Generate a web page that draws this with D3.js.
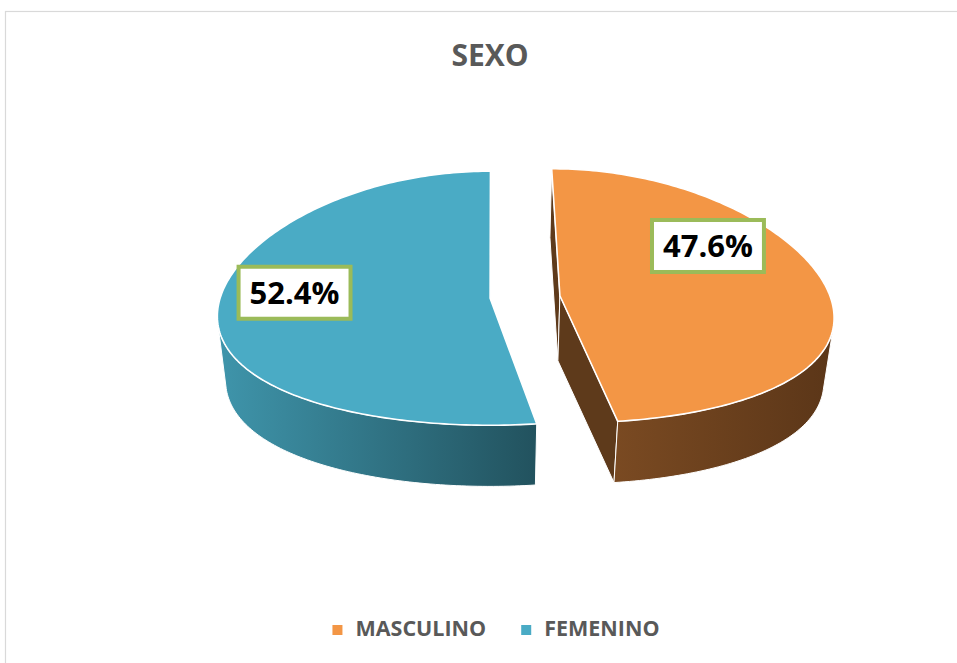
<!DOCTYPE html>
<html>
<head>
<meta charset="utf-8">
<script src="https://cdn.jsdelivr.net/npm/d3@7"></script>
<style>
  html, body { margin: 0; padding: 0; background: #fff; }
  svg { display: block; }
</style>
</head>
<body>
<svg id="chart" width="957" height="663"></svg>
<script>
// ---- data ----
const title = "SEXO";
const categories = ["MASCULINO", "FEMENINO"];
const values = [47.6, 52.4];
const valueLabels = ["47.6%", "52.4%"];
const topColors = ["#F39645", "#4AABC5"];
const wallLight = ["#7a4a22", "#3f95ab"];
const wallDark = ["#5b3618", "#22525e"];
const radialWall = ["#5e3a1b", "#2a6170"];

// ---- layout ----
const W = 957, H = 663;
const FONT = "'Open Sans', Lato, sans-serif";
const svg = d3.select("#chart");
const defs = svg.append("defs");

// chart area border
svg.append("rect").attr("x", 5.5).attr("y", 11.5).attr("width", 1000).attr("height", 700)
  .attr("fill", "none").attr("stroke", "#d9d9d9").attr("stroke-width", 1.2);

// title
svg.append("text").attr("x", 490).attr("y", 66).attr("text-anchor", "middle")
  .attr("font-family", FONT).attr("font-weight", "bold").attr("font-size", 30)
  .attr("fill", "#595959").text(title);

// 3D pie geometry
const geo = { cx: 525, cy: 297, rx: 270, ry: 127, h: 65, explode: 35, vx: 493, k: 0.14, sb: 0.97 };
const pie = d3.pie().sort(null).value(d => d).startAngle(0).endAngle(2 * Math.PI);
const arcs = pie(values);

function proj(sc, a, r, bottom) {
  const ox = sc.x + r * geo.rx * Math.sin(a);
  const oy = sc.y - r * geo.ry * Math.cos(a);
  const depth = -r * Math.cos(a);
  const f = 1 / (1 - geo.k * depth);
  if (!bottom) return [geo.vx + (ox - geo.vx) * f, oy];
  return [geo.vx + (ox - geo.vx) * f * geo.sb, geo.cy + (oy - geo.cy) * geo.sb + geo.h];
}
function area(pts) {
  let s = 0;
  for (let i = 0; i < pts.length; i++) {
    const p = pts[i], q = pts[(i + 1) % pts.length];
    s += p[0] * q[1] - q[0] * p[1];
  }
  return s / 2;
}
const line = d3.line();

const slices = arcs.map((d, i) => {
  const mid = (d.startAngle + d.endAngle) / 2;
  const sc = {
    x: geo.cx + geo.explode * Math.sin(mid),
    y: geo.cy - geo.explode * (geo.ry / geo.rx) * Math.cos(mid)
  };
  const n = Math.max(8, Math.ceil((d.endAngle - d.startAngle) / (2 * Math.PI) * 360));
  const angs = d3.range(n + 1).map(j => d.startAngle + (d.endAngle - d.startAngle) * j / n);
  return { d, i, sc, angs };
});

const gWalls = svg.append("g");
const gTops = svg.append("g");

slices.forEach(s => {
  const { sc, angs, i } = s;
  const T = angs.map(a => proj(sc, a, 1, false));
  const B = angs.map(a => proj(sc, a, 1, true));
  const Ct = proj(sc, 0, 0, false), Cb = proj(sc, 0, 0, true);

  // radial walls
  const r1 = [T[T.length - 1], Ct, Cb, B[B.length - 1]];
  const r0 = [Ct, T[0], B[0], Cb];
  [r0, r1].forEach(q => {
    if (area(q) < 0) {
      gWalls.append("path").attr("d", line(q) + "Z")
        .attr("fill", radialWall[i]).attr("stroke", "#fff").attr("stroke-width", 1).attr("stroke-linejoin", "round");
    }
  });

  // outer wall: visible runs
  const vis = [];
  for (let j = 0; j < angs.length - 1; j++) {
    vis.push(area([T[j], T[j + 1], B[j + 1], B[j]]) < 0);
  }
  let j = 0;
  while (j < vis.length) {
    if (!vis[j]) { j++; continue; }
    let e = j;
    while (e < vis.length && vis[e]) e++;
    const topPts = T.slice(j, e + 1);
    const botPts = B.slice(j, e + 1).reverse();
    const poly = topPts.concat(botPts);
    const xs = poly.map(p => p[0]);
    const gid = "wg" + i + "_" + j;
    const gr = defs.append("linearGradient").attr("id", gid).attr("gradientUnits", "userSpaceOnUse")
      .attr("x1", d3.min(xs)).attr("x2", d3.max(xs)).attr("y1", 0).attr("y2", 0);
    gr.append("stop").attr("offset", 0).attr("stop-color", wallLight[i]);
    gr.append("stop").attr("offset", 1).attr("stop-color", wallDark[i]);
    gWalls.append("path").attr("d", line(poly) + "Z").attr("fill", `url(#${gid})`)
      .attr("stroke", "#fff").attr("stroke-width", 1).attr("stroke-linejoin", "round");
    j = e;
  }

  // top face
  const top = [Ct].concat(T);
  gTops.append("path").attr("d", line(top) + "Z").attr("fill", topColors[i])
    .attr("stroke", "#fff").attr("stroke-width", 1.6).attr("stroke-linejoin", "round");
});

// data labels
const labelPos = [{ a: 56.5, r: 0.71 }, { a: 273.4, r: 0.73 }];
const gLab = svg.append("g");
slices.forEach(s => {
  const lp = labelPos[s.i];
  const p = proj(s.sc, lp.a * Math.PI / 180, lp.r, false);
  const g = gLab.append("g");
  const rect = g.append("rect").attr("fill", "#fff").attr("stroke", "#9BBB59").attr("stroke-width", 4);
  const t = g.append("text").attr("x", p[0]).attr("y", p[1] + 11.5).attr("text-anchor", "middle")
    .attr("font-family", FONT).attr("font-weight", "bold").attr("font-size", 31)
    .attr("fill", "#000").text(valueLabels[s.i]);
  const tw = t.node().getComputedTextLength();
  const bw = tw + 22, bh = 52;
  rect.attr("x", p[0] - bw / 2).attr("y", p[1] - bh / 2).attr("width", bw).attr("height", bh);
});

// legend
const legend = svg.append("g");
const items = categories.map((c, i) => {
  const g = legend.append("g");
  g.append("rect").attr("width", 10).attr("height", 10).attr("y", -11).attr("fill", topColors[i]);
  const t = g.append("text").attr("x", 23).attr("y", 0)
    .attr("font-family", FONT).attr("font-weight", "bold").attr("font-size", 21.5)
    .attr("fill", "#595959").text(c);
  return { g, w: 23 + t.node().getComputedTextLength() };
});
const gap = 35;
const total = d3.sum(items, d => d.w) + gap * (items.length - 1);
let lx = 496 - total / 2;
items.forEach(it => { it.g.attr("transform", `translate(${lx},636)`); lx += it.w + gap; });
</script>
</body>
</html>
